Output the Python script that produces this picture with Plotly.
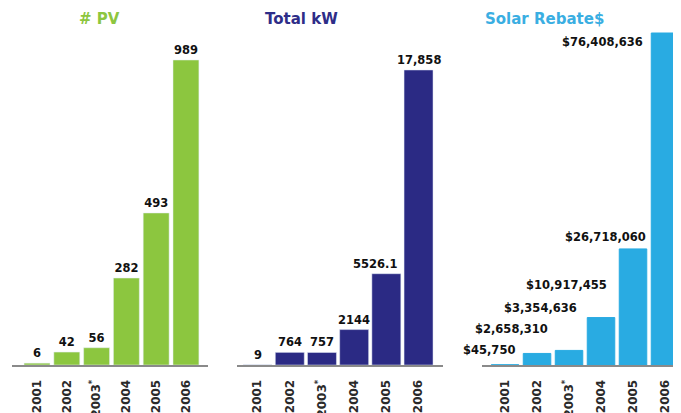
import plotly.graph_objects as go

years = ["2001", "2002", "2003<sup>*</sup>", "2004", "2005", "2006"]

pv_counts = [6, 42, 56, 282, 493, 989]
pv_labels = ["6", "42", "56", "282", "493", "989"]

total_kw = [9, 764, 757, 2144, 5526.1, 17858]
kw_labels = ["9", "764", "757", "2144", "5526.1", "17,858"]

rebates = [45750, 2658310, 3354636, 10917455, 26718060, 76408636]
rebate_labels = ["$45,750", "$2,658,310", "$3,354,636", "$10,917,455", "$26,718,060", "$76,408,636"]

titles = ["# PV", "Total kW", "Solar Rebate$"]

# ---- styling ----
OFF = 8  # page body margin offset
W, H = 681 - OFF, 413 - OFF
FONT = "DejaVu Sans"
green = "#8cc63f"
navy = "#2b2a84"
blue = "#29abe2"
title_colors = ["#8dc63f", "#2e2d88", "#3aaee2"]
label_font = dict(family=FONT, size=11.5, color="#111", weight="bold")


def xfrac(px):
    return (px - OFF) / W


def yfrac(px):
    return (H - (px - OFF)) / H


fig = go.Figure()

fig.add_trace(go.Bar(x=years, y=pv_counts, text=pv_labels, textposition="outside",
                     marker_color=green, width=0.87, xaxis="x", yaxis="y",
                     textfont=label_font, constraintext="none",
                     cliponaxis=False, showlegend=False))
fig.add_trace(go.Bar(x=years, y=total_kw, marker_color=navy, width=0.9,
                     xaxis="x2", yaxis="y2", cliponaxis=False, showlegend=False))
fig.add_trace(go.Bar(x=years, y=rebates, marker=dict(color=blue, line=dict(color=blue, width=1)),
                     width=0.86, xaxis="x3", yaxis="y3", cliponaxis=False, showlegend=False))

# kW label placement (pixels)
kw_xshift = [0, 0, 0, 0, -11, 0]
for i, (v, t) in enumerate(zip(total_kw, kw_labels)):
    fig.add_annotation(x=i, y=v, xref="x2", yref="y2", text=t, showarrow=False,
                       xanchor="center", yanchor="bottom",
                       xshift=kw_xshift[i], yshift=1, font=label_font)

# rebate label placement (pixels)
label_xshift = [12, 13, 10, 8, 15, -20]
label_yshift = [15, 24, 42, 33, 12, -9]
for i, (v, t) in enumerate(zip(rebates, rebate_labels)):
    fig.add_annotation(x=i, y=v, xref="x3", yref="y3", text=t, showarrow=False,
                       xanchor="right", yanchor="middle",
                       xshift=label_xshift[i], yshift=label_yshift[i],
                       font=label_font)

panels = [
    (12, 208, [-0.84, 5.74], 1086.3),
    (237, 443, [-0.64, 5.76], 20279),
    (482, 681, [-0.72, 5.5], 77099067),
]
title_x = [100, 301, 544]

axis_common = dict(
    type="category", showgrid=False, zeroline=False, showline=True,
    linecolor="#8a8a8a", linewidth=2, tickangle=-90, ticks="outside",
    ticklen=8, tickcolor="rgba(0,0,0,0)", automargin=False,
    tickfont=dict(family=FONT, size=12, color="#2a2a2a", weight="bold"),
)
for i, (x0, x1, xr, ymax) in enumerate(panels):
    sfx = "" if i == 0 else str(i + 1)
    fig.layout["xaxis" + sfx] = dict(axis_common, domain=[xfrac(x0), min(1, xfrac(x1))],
                                     range=xr, anchor="y" + sfx, fixedrange=True)
    fig.layout["yaxis" + sfx] = dict(domain=[yfrac(365), yfrac(30)],
                                     range=[0, ymax], visible=False, automargin=False,
                                     anchor="x" + sfx, fixedrange=True)
    fig.add_annotation(x=xfrac(title_x[i]), y=yfrac(19), xref="paper", yref="paper",
                       text=titles[i], showarrow=False, xanchor="center", yanchor="middle",
                       font=dict(family=FONT, size=15, color=title_colors[i], weight="bold"))

fig.update_layout(width=W, height=H,
                  margin=dict(l=0, r=0, t=0, b=0, autoexpand=False),
                  paper_bgcolor="white", plot_bgcolor="white", bargap=0.1)

fig.write_html("out.html")
